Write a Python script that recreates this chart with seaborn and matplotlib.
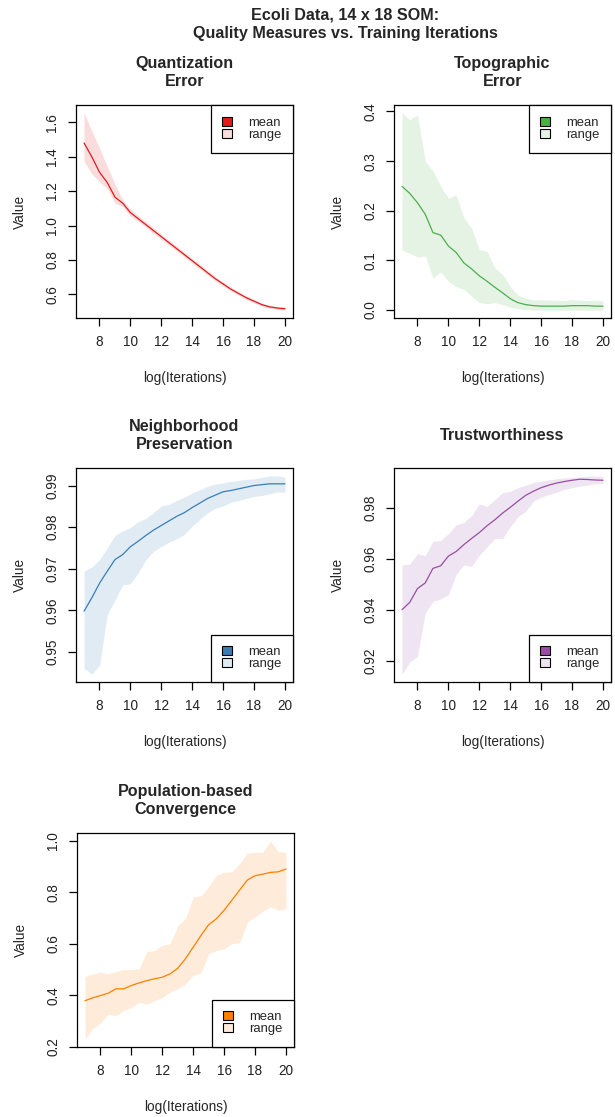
import numpy as np
import pandas as pd
import matplotlib
matplotlib.use("Agg")
import matplotlib.pyplot as plt
from matplotlib.patches import Patch
import seaborn as sns

# ---------------- data ----------------
log_iter = [7.0, 7.5, 8.0, 8.5, 9.0, 9.5, 10.0, 10.5, 11.0, 11.5, 12.0, 12.5, 13.0, 13.5,
            14.0, 14.5, 15.0, 15.5, 16.0, 16.5, 17.0, 17.5, 18.0, 18.5, 19.0, 19.5, 20.0]

qe_mean = [1.480, 1.400, 1.310, 1.250, 1.165, 1.130, 1.075, 1.040, 1.005, 0.970, 0.935, 0.900, 0.865, 0.830,
           0.795, 0.760, 0.725, 0.690, 0.660, 0.630, 0.605, 0.580, 0.560, 0.540, 0.527, 0.520, 0.516]
qe_upper = [1.655, 1.550, 1.450, 1.345, 1.240, 1.150, 1.095, 1.058, 1.022, 0.986, 0.950, 0.915, 0.880, 0.844,
            0.809, 0.773, 0.738, 0.702, 0.672, 0.641, 0.616, 0.590, 0.570, 0.549, 0.536, 0.529, 0.525]
qe_lower = [1.375, 1.300, 1.255, 1.215, 1.130, 1.110, 1.055, 1.024, 0.990, 0.955, 0.920, 0.886, 0.851, 0.816,
            0.781, 0.747, 0.712, 0.678, 0.648, 0.619, 0.594, 0.570, 0.550, 0.531, 0.518, 0.512, 0.508]

te_mean = [0.249, 0.235, 0.216, 0.193, 0.156, 0.151, 0.129, 0.116, 0.095, 0.083, 0.069, 0.058, 0.046, 0.035,
           0.023, 0.015, 0.011, 0.009, 0.008, 0.008, 0.008, 0.008, 0.009, 0.009, 0.009, 0.008, 0.008]
te_upper = [0.397, 0.383, 0.393, 0.300, 0.280, 0.250, 0.225, 0.232, 0.186, 0.165, 0.122, 0.118, 0.085, 0.072,
            0.048, 0.030, 0.024, 0.020, 0.021, 0.020, 0.020, 0.019, 0.021, 0.020, 0.019, 0.020, 0.019]
te_lower = [0.121, 0.114, 0.107, 0.109, 0.065, 0.077, 0.058, 0.047, 0.042, 0.028, 0.015, 0.013, 0.015, 0.011,
            0.006, 0.003, 0.001, 0.000, 0.000, 0.000, 0.000, 0.000, 0.000, 0.000, 0.000, 0.000, 0.000]

np_mean = [0.9598, 0.9630, 0.9665, 0.9694, 0.9722, 0.9734, 0.9753, 0.9766, 0.9780, 0.9793, 0.9804, 0.9815, 0.9826, 0.9835,
           0.9847, 0.9858, 0.9869, 0.9877, 0.9885, 0.9888, 0.9892, 0.9896, 0.9900, 0.9902, 0.9904, 0.9904, 0.9904]
np_upper = [0.9695, 0.9704, 0.9722, 0.9750, 0.9780, 0.9791, 0.9799, 0.9813, 0.9821, 0.9835, 0.9851, 0.9855, 0.9864, 0.9872,
            0.9882, 0.9890, 0.9898, 0.9904, 0.9906, 0.9910, 0.9912, 0.9915, 0.9916, 0.9919, 0.9923, 0.9923, 0.9920]
np_lower = [0.9461, 0.9447, 0.9468, 0.9590, 0.9625, 0.9661, 0.9664, 0.9690, 0.9722, 0.9742, 0.9754, 0.9764, 0.9772, 0.9783,
            0.9803, 0.9819, 0.9835, 0.9845, 0.9851, 0.9860, 0.9864, 0.9869, 0.9874, 0.9876, 0.9880, 0.9884, 0.9884]

tw_mean = [0.9402, 0.9431, 0.9485, 0.9507, 0.9564, 0.9574, 0.9612, 0.9630, 0.9657, 0.9681, 0.9704, 0.9731, 0.9754, 0.9780,
           0.9803, 0.9827, 0.9850, 0.9866, 0.9880, 0.9890, 0.9898, 0.9904, 0.9909, 0.9913, 0.9912, 0.9910, 0.9909]
tw_upper = [0.9577, 0.9581, 0.9621, 0.9614, 0.9670, 0.9674, 0.9700, 0.9734, 0.9744, 0.9771, 0.9816, 0.9807, 0.9833, 0.9860,
            0.9866, 0.9880, 0.9890, 0.9900, 0.9905, 0.9910, 0.9915, 0.9918, 0.9920, 0.9922, 0.9925, 0.9926, 0.9924]
tw_lower = [0.9150, 0.9197, 0.9220, 0.9389, 0.9435, 0.9444, 0.9461, 0.9541, 0.9577, 0.9572, 0.9615, 0.9648, 0.9681, 0.9681,
            0.9727, 0.9767, 0.9787, 0.9827, 0.9843, 0.9853, 0.9862, 0.9873, 0.9880, 0.9886, 0.9890, 0.9896, 0.9896]

pc_mean = [0.379, 0.390, 0.399, 0.408, 0.425, 0.425, 0.438, 0.448, 0.457, 0.464, 0.470, 0.483, 0.505, 0.542,
           0.587, 0.632, 0.674, 0.697, 0.730, 0.769, 0.808, 0.847, 0.864, 0.870, 0.877, 0.879, 0.890]
pc_upper = [0.473, 0.483, 0.490, 0.483, 0.492, 0.500, 0.500, 0.503, 0.570, 0.574, 0.594, 0.600, 0.671, 0.697,
            0.782, 0.786, 0.821, 0.866, 0.877, 0.879, 0.912, 0.951, 0.955, 0.955, 0.999, 0.957, 0.955]
pc_lower = [0.230, 0.271, 0.292, 0.327, 0.321, 0.340, 0.353, 0.373, 0.366, 0.379, 0.392, 0.412, 0.425, 0.444,
            0.477, 0.487, 0.561, 0.574, 0.581, 0.600, 0.604, 0.684, 0.704, 0.726, 0.743, 0.730, 0.736]

panel_titles = ["Quantization\nError", "Topographic\nError", "Neighborhood\nPreservation",
                "Trustworthiness", "Population-based\nConvergence"]
panel_colors = ["#E41A1C", "#4DAF4A", "#377EB8", "#984EA3", "#FF7F00"]
x_ticks = [8, 10, 12, 14, 16, 18, 20]
y_ticks = [[0.6, 0.8, 1.0, 1.2, 1.4, 1.6],
           [0.0, 0.1, 0.2, 0.3, 0.4],
           [0.95, 0.96, 0.97, 0.98, 0.99],
           [0.92, 0.94, 0.96, 0.98],
           [0.2, 0.4, 0.6, 0.8, 1.0]]
y_decimals = [1, 1, 2, 2, 1]
legend_locs = ["upper right", "upper right", "lower right", "lower right", "lower right"]
main_title = "Ecoli Data, 14 x 18 SOM:\nQuality Measures vs. Training Iterations"

series = [(qe_mean, qe_lower, qe_upper), (te_mean, te_lower, te_upper),
          (np_mean, np_lower, np_upper), (tw_mean, tw_lower, tw_upper),
          (pc_mean, pc_lower, pc_upper)]

# ---------------- style ----------------
sns.set_style("white")
plt.rcParams['font.family'] = ['Liberation Sans', 'DejaVu Sans']
plt.rcParams['axes.edgecolor'] = 'black'
plt.rcParams['axes.linewidth'] = 0.9

W, H = 615, 1117
fig = plt.figure(figsize=(W / 100, H / 100), dpi=100)

# (left, right, top, bottom) in pixels
boxes = [(76, 293, 105, 318), (394, 611, 105, 318),
         (76, 293, 468, 682), (394, 611, 468, 682),
         (77, 294, 833, 1047)]

FS = 9.8

def r_range(lo, hi):
    d = (hi - lo) * 0.04
    return lo - d, hi + d

for i, (mean, lower, upper) in enumerate(series):
    l, r, t, b = boxes[i]
    ax = fig.add_axes([l / W, 1 - b / H, (r - l) / W, (b - t) / H])
    col = panel_colors[i]
    ax.fill_between(log_iter, lower, upper, color=col, alpha=0.15, linewidth=0)
    df = pd.DataFrame({"x": log_iter, "y": mean})
    sns.lineplot(data=df, x="x", y="y", ax=ax, color=col, linewidth=0.9)

    ax.set_xlim(*r_range(min(log_iter), max(log_iter)))
    ax.set_ylim(*r_range(min(lower), max(upper)))
    ax.set_xticks(x_ticks)
    ax.set_xticklabels([str(v) for v in x_ticks])
    ax.set_yticks(y_ticks[i])
    ax.set_yticklabels([f"{v:.{y_decimals[i]}f}" for v in y_ticks[i]])
    ax.tick_params(axis='both', direction='out', length=6, width=0.9, labelsize=FS,
                   color='black', labelcolor='#222222', pad=6,
                   bottom=True, left=True, top=False, right=False)
    ax.tick_params(axis='y', labelrotation=90)
    for lab in ax.get_yticklabels():
        lab.set_va('center')
    for sp in ax.spines.values():
        sp.set_visible(True)
        sp.set_color('black')
        sp.set_linewidth(0.9)

    ax.set_xlabel("log(Iterations)", fontsize=FS, va='center')
    ax.set_ylabel("Value", fontsize=FS, va='center')
    ax.xaxis.set_label_coords(0.5, -60 / (b - t))
    ax.yaxis.set_label_coords(-56 / (r - l), 0.5)

    ax.text(0.5, 1 + 32.5 / (b - t), panel_titles[i], transform=ax.transAxes,
            ha='center', va='center', fontsize=11.6, fontweight='bold', linespacing=1.25)

    handles = [Patch(facecolor=col, edgecolor='black', linewidth=0.8),
               Patch(facecolor=matplotlib.colors.to_rgba(col, 0.15), edgecolor='black', linewidth=0.8)]
    leg = ax.legend(handles, ["mean", "range"], loc=legend_locs[i], borderaxespad=0,
                    fancybox=False, frameon=True, edgecolor='black', framealpha=1,
                    fontsize=9.4, handlelength=0.75, handleheight=0.65, handletextpad=1.2,
                    borderpad=0.9, labelspacing=0.0)
    leg.get_frame().set_linewidth(0.9)

fig.text(345 / W, 1 - 24.2 / H, main_title, ha='center', va='center',
         fontsize=11.6, fontweight='bold', linespacing=1.25)

fig.savefig("out.png", dpi=100)
